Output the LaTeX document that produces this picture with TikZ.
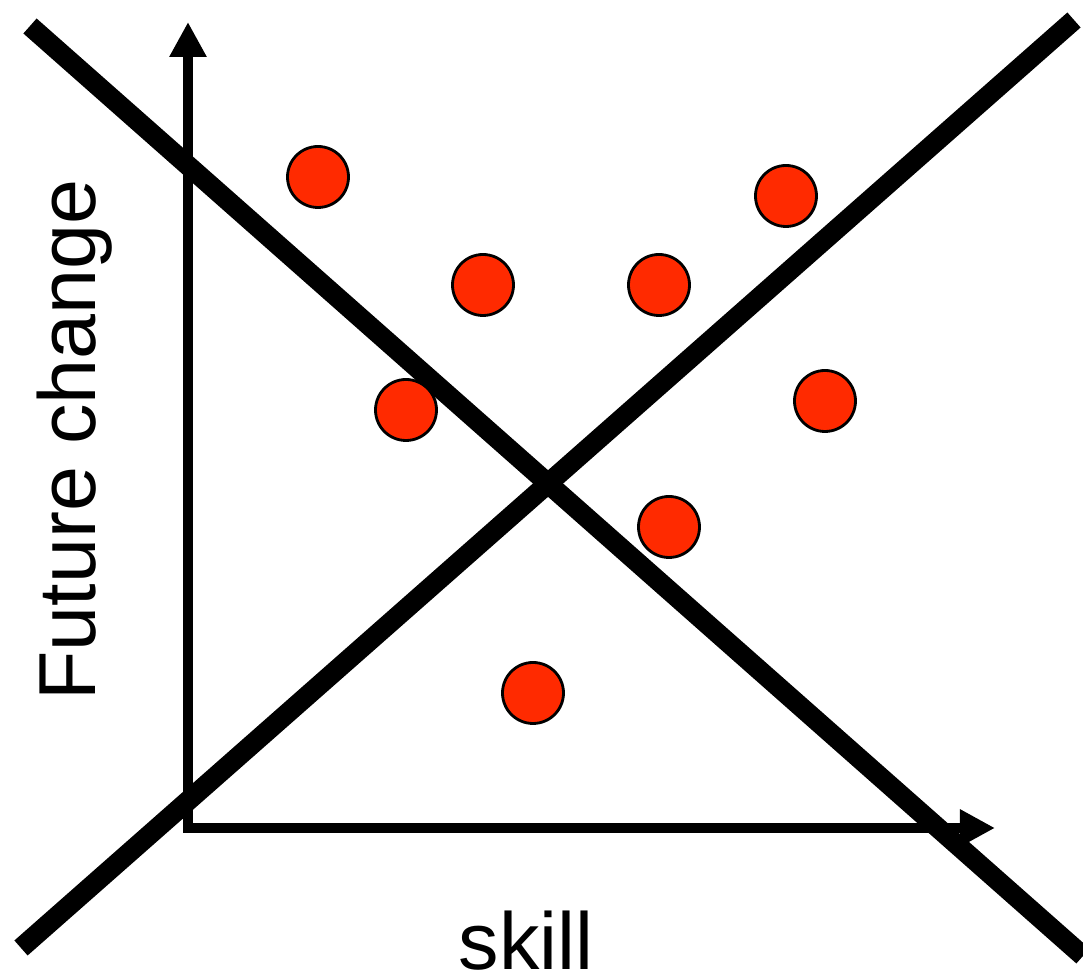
\documentclass[tikz,border=0pt]{standalone}
\usepackage{fontspec}
\setmainfont{Liberation Sans}
\usepackage{tikz}
\usetikzlibrary{arrows.meta,positioning}
\definecolor{dotred}{RGB}{255,42,0}
\tikzset{
	axisline/.style={line width=1mm,-{Triangle[length=3.5mm,width=3.5mm]}},
	cutline/.style={line width=2mm},
	dot/.style={circle,draw=black,line width=0.8pt,fill=dotred,minimum size=6.1mm,inner sep=0pt},
	lab/.style={font=\fontsize{23}{28}\selectfont,inner sep=0pt}
}

\begin{document}
\begin{tikzpicture}[x=0.1mm,y=-0.1mm]
				%\draw[color=gray,step=10, help lines,opacity=0.3] (0,0) grid (1083,976); %help grids
				\useasboundingbox (0,0) rectangle (1083,976);
				\coordinate (o) at (188,828);
				\coordinate (ytip) at (188,22);
				\coordinate (xtip) at (995,828);
				\draw[axisline] (o)--(ytip);
				\draw[axisline] ([xshift=-0.5mm]o)--(xtip);
				% the two crossing lines
				\coordinate (la) at (30,26);
				\coordinate (lb) at (1083,956);
				\coordinate (ma) at (21,948);
				\coordinate (mb) at (1074,20);
				\draw[cutline] (la)--(lb);
				\draw[cutline] (ma)--(mb);
				% points
				\node[dot] (p1) at (318,177) {};
				\node[dot] (p2) at (483,285) {};
				\node[dot] (p3) at (659,285) {};
				\node[dot] (p4) at (786,196) {};
				\node[dot] (p5) at (406,410) {};
				\node[dot] (p6) at (825,401) {};
				\node[dot] (p7) at (669,527) {};
				\node[dot] (p8) at (533,693) {};
				\node[lab,rotate=90,anchor=base] (ylab) at (95,440) {Future change};
				\node[lab,anchor=base] (xlab) at (526,970) {skill};
\end{tikzpicture}
\end{document}
